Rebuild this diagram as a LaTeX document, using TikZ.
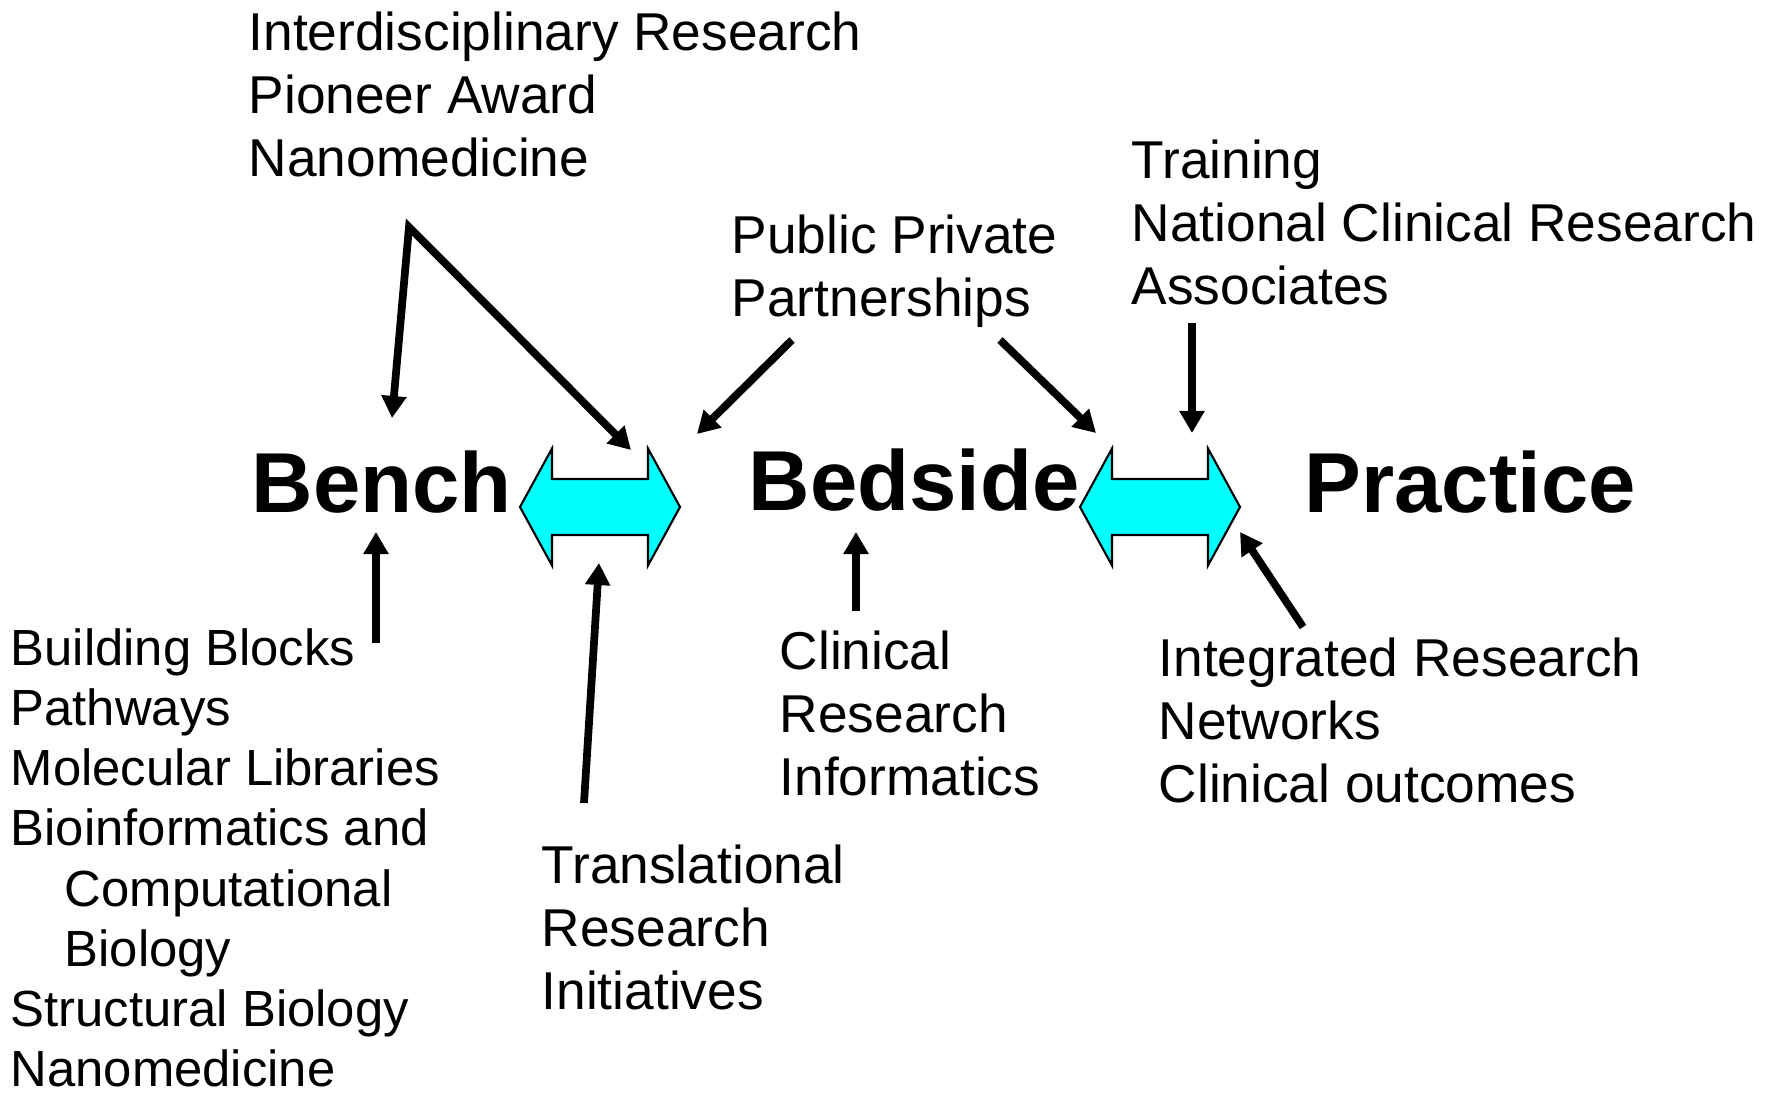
\documentclass[tikz,border=0pt]{standalone}
\usepackage{fontspec}
\setmainfont{Liberation Sans}
\usepackage{tikz}
\usetikzlibrary{arrows.meta}
\definecolor{aqua}{RGB}{0,255,255}

\begin{document}
\begin{tikzpicture}[x=0.01cm,y=-0.01cm,>={Triangle[length=2.2mm,width=2.4mm]},
  topic/.style={anchor=north west,inner sep=0pt,align=left,font=\fontsize{15.15}{18}\selectfont},
  stage/.style={anchor=base west,inner sep=0pt,font=\fontsize{24.2}{28}\selectfont\bfseries},
  feed/.style={->,line width=2.2pt},
  link/.style={fill=aqua,draw=black,line width=0.6pt,line join=miter}]
\useasboundingbox (0,0) rectangle (1775,1097);

% the three stages
\node[stage] (bench) at (251,512) {Bench};
\node[stage] (bedside) at (748,511) {Bedside};
\node[stage] (practice) at (1304,512) {Practice};

% cyan two-way arrows between the stages
\foreach \x in {520,1080}
  \draw[link] (\x,507) -- ++(32,-58.5) -- ++(0,30.5) -- ++(96,0) -- ++(0,-30.5) -- ++(32,58.5)
    -- ++(-32,58.5) -- ++(0,-30.5) -- ++(-96,0) -- ++(0,30.5) -- cycle;

% programmes feeding in
\node[topic] (awards) at (248,11) {Interdisciplinary Research\\Pioneer Award\\Nanomedicine};
\node[topic] (partners) at (731,214) {Public Private\\Partnerships};
\node[topic] (training) at (1131,139) {Training\\National Clinical Research\\Associates};
\node[topic,font=\fontsize{14.45}{17.1}\selectfont] (blocks) at (10,628) {Building Blocks\\Pathways\\Molecular Libraries\\Bioinformatics and\\\hspace*{5.4mm}Computational\\\hspace*{5.4mm}Biology\\Structural Biology\\Nanomedicine};
\node[topic] (translational) at (541,844) {Translational\\Research\\Initiatives};
\node[topic] (informatics) at (779,630) {Clinical\\Research\\Informatics};
\node[topic] (networks) at (1158,637) {Integrated Research\\Networks\\Clinical outcomes};

% arrow ends
\coordinate (awardsFoot) at (409,227);
\coordinate (benchTop) at (392,418);
\coordinate (benchLinkTop) at (631,450);
\coordinate (partnersLeft) at (792,340);
\coordinate (partnersRight) at (1000,340);
\coordinate (benchLinkEnd) at (697,434);
\coordinate (bedsideLinkTop) at (1096,433);
\coordinate (trainingFoot) at (1192,323);
\coordinate (bedsideLinkMid) at (1192,433);
\coordinate (blocksTop) at (376,643);
\coordinate (benchFoot) at (376,532);
\coordinate (translationalTop) at (584,803);
\coordinate (benchLinkFoot) at (599,563);
\coordinate (informaticsTop) at (856,611);
\coordinate (bedsideFoot) at (856,532);
\coordinate (networksTop) at (1303,627);
\coordinate (bedsideLinkEnd) at (1240,532);

\draw[feed,<->] (benchTop) -- (awardsFoot) -- (benchLinkTop);
\draw[feed] (partnersLeft) -- (benchLinkEnd);
\draw[feed] (partnersRight) -- (bedsideLinkTop);
\draw[feed] (trainingFoot) -- (bedsideLinkMid);
\draw[feed] (blocksTop) -- (benchFoot);
\draw[feed] (translationalTop) -- (benchLinkFoot);
\draw[feed] (informaticsTop) -- (bedsideFoot);
\draw[feed] (networksTop) -- (bedsideLinkEnd);
\end{tikzpicture}
\end{document}
